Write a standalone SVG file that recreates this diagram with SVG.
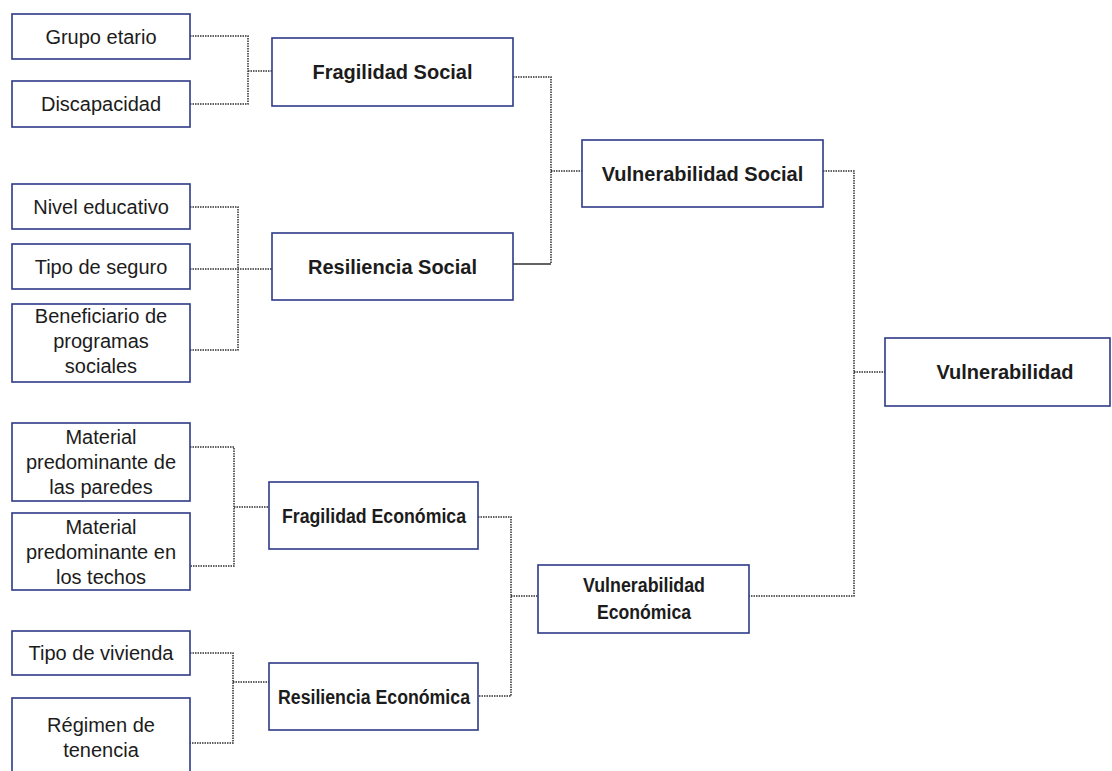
<svg xmlns="http://www.w3.org/2000/svg" width="1112" height="771" viewBox="0 0 1112 771">
  <style>
    .box { fill: #ffffff; stroke: #2e3a87; stroke-width: 1.6; }
    .lbl { font-family: "Liberation Sans", Arial, sans-serif; font-size: 20px; fill: #1c1c1c; text-anchor: middle; }
    .b { font-weight: bold; }
    .dot { fill: none; stroke: #2f2f2f; stroke-width: 1.5; stroke-dasharray: 1.5 1; }
    .solid { fill: none; stroke: #2f2f2f; stroke-width: 1.5; }
  </style>
  <rect width="1112" height="771" fill="#ffffff"/>

  <!-- connectors -->
  <g id="connectors">
    <path class="dot" d="M190,36 H248 V104 H190 M248,71 H272"/>
    <path class="dot" d="M190,207 H238 V350 H190 M190,269 H272"/>
    <path class="dot" d="M190,447 H234 V566 H190 M234,507 H269"/>
    <path class="dot" d="M190,653 H233 V743 H190 M233,682 H269"/>
    <path class="dot" d="M513,77 H551 V264 M551,171 H582"/>
    <path class="solid" d="M513,264 H551"/>
    <path class="dot" d="M478,517 H511 V696 H478 M511,596 H538"/>
    <path class="dot" d="M823,171 H854 V596 H749 M854,372 H885"/>
  </g>

  <!-- indicators -->
  <g id="grupo-etario"><rect class="box" x="12" y="14" width="178" height="45"/><text class="lbl" x="101" y="43.5">Grupo etario</text></g>
  <g id="discapacidad"><rect class="box" x="12" y="81" width="178" height="46"/><text class="lbl" x="101" y="111">Discapacidad</text></g>
  <g id="nivel-educativo"><rect class="box" x="12" y="184" width="178" height="45"/><text class="lbl" x="101" y="213.5">Nivel educativo</text></g>
  <g id="tipo-seguro"><rect class="box" x="12" y="244" width="178" height="45"/><text class="lbl" x="101" y="273.5">Tipo de seguro</text></g>
  <g id="beneficiario"><rect class="box" x="12" y="304" width="178" height="78"/>
    <text class="lbl" x="101" y="323">Beneficiario de</text>
    <text class="lbl" x="101" y="348">programas</text>
    <text class="lbl" x="101" y="373">sociales</text></g>
  <g id="material-paredes"><rect class="box" x="12" y="423" width="178" height="78"/>
    <text class="lbl" x="101" y="444">Material</text>
    <text class="lbl" x="101" y="469">predominante de</text>
    <text class="lbl" x="101" y="494">las paredes</text></g>
  <g id="material-techos"><rect class="box" x="12" y="513" width="178" height="77"/>
    <text class="lbl" x="101" y="533.5">Material</text>
    <text class="lbl" x="101" y="558.5">predominante en</text>
    <text class="lbl" x="101" y="583.5">los techos</text></g>
  <g id="tipo-vivienda"><rect class="box" x="12" y="631" width="178" height="44"/><text class="lbl" x="101" y="660">Tipo de vivienda</text></g>
  <g id="regimen-tenencia"><rect class="box" x="12" y="698" width="178" height="80"/>
    <text class="lbl" x="101" y="732">Régimen de</text>
    <text class="lbl" x="101" y="757">tenencia</text></g>

  <!-- components -->
  <g id="fragilidad-social"><rect class="box" x="272" y="38" width="241" height="68"/><text class="lbl b" x="392.5" y="79">Fragilidad Social</text></g>
  <g id="resiliencia-social"><rect class="box" x="272" y="233" width="241" height="67"/><text class="lbl b" x="392.5" y="273.5">Resiliencia Social</text></g>
  <g id="fragilidad-economica"><rect class="box" x="269" y="482" width="209" height="67"/><text class="lbl b" x="374" y="522.5" textLength="184" lengthAdjust="spacingAndGlyphs">Fragilidad Económica</text></g>
  <g id="resiliencia-economica"><rect class="box" x="269" y="663" width="209" height="67"/><text class="lbl b" x="374" y="703.5" textLength="192" lengthAdjust="spacingAndGlyphs">Resiliencia Económica</text></g>

  <!-- dimensions -->
  <g id="vulnerabilidad-social"><rect class="box" x="582" y="140" width="241" height="67"/><text class="lbl b" x="702.5" y="180.5">Vulnerabilidad Social</text></g>
  <g id="vulnerabilidad-economica"><rect class="box" x="538" y="565" width="211" height="68"/>
    <text class="lbl b" x="644" y="592" textLength="122" lengthAdjust="spacingAndGlyphs">Vulnerabilidad</text>
    <text class="lbl b" x="644" y="619" textLength="94" lengthAdjust="spacingAndGlyphs">Económica</text></g>

  <!-- index -->
  <g id="vulnerabilidad"><rect class="box" x="885" y="338" width="225" height="68"/><text class="lbl b" x="1005" y="379">Vulnerabilidad</text></g>
</svg>
